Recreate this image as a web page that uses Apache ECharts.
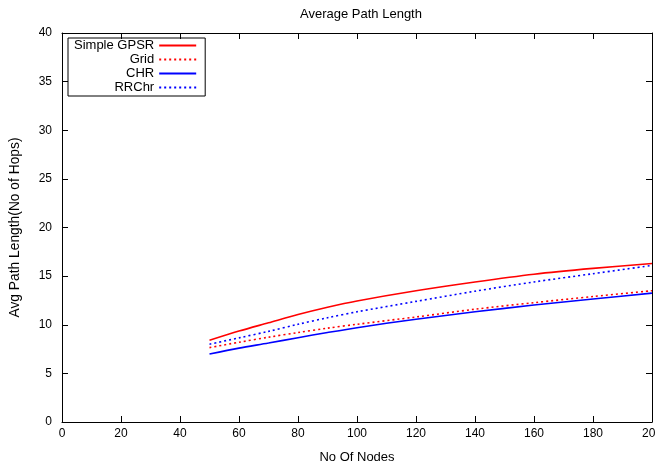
<!DOCTYPE html>
<html>
<head>
<meta charset="utf-8">
<script src="https://cdn.jsdelivr.net/npm/echarts@6/dist/echarts.min.js"></script>
<style>html,body{margin:0;padding:0;background:#fff}#c{width:655px;height:466px}</style>
</head>
<body>
<div id="c"></div>
<script>
const xNodes = [50, 60, 70, 80, 90, 100, 120, 140, 160, 180, 200];
const simpleGPSR = [8.4, 9.35, 10.2, 11.05, 11.8, 12.45, 13.5, 14.4, 15.2, 15.8, 16.3];
const grid = [7.65, 8.2, 8.72, 9.2, 9.65, 10.05, 10.8, 11.6, 12.27, 12.9, 13.5];
const chr = [7.0, 7.6, 8.12, 8.67, 9.2, 9.7, 10.57, 11.33, 12.03, 12.65, 13.25];
const rrchr = [8.0, 8.65, 9.32, 10.05, 10.72, 11.33, 12.4, 13.45, 14.4, 15.25, 16.1];
const seriesNames = ['Simple GPSR', 'Grid', 'CHR', 'RRChr'];
const xTicks = [0, 200, 20];
const yTicks = [0, 40, 5];

const FONT = 'Liberation Sans, Arial, sans-serif';
const pair = (ys) => xNodes.map((x, i) => [x, ys[i]]);
const mk = (name, ys, color, type) => ({
  name, type: 'line', data: pair(ys), smooth: 0.3, symbol: 'none', showSymbol: false,
  lineStyle: { color, width: 1.6, type }, itemStyle: { color }
});

const chart = echarts.init(document.getElementById('c'), null, { renderer: 'canvas' });
const axisLine = { show: true, onZero: false, lineStyle: { color: '#000', width: 1 } };
const tick = { show: true, inside: true, length: 6, lineStyle: { color: '#000' } };
chart.setOption({
  animation: false,
  backgroundColor: '#fff',
  textStyle: { fontFamily: FONT },
  title: {
    text: 'Average Path Length', left: 356, top: 3, textAlign: 'center',
    textStyle: { fontSize: 13, fontWeight: 'normal', color: '#000', fontFamily: FONT }
  },
  grid: { left: 62, right: 3, top: 33, bottom: 44, outerBoundsMode: 'none', containLabel: false },
  legend: {
    orient: 'vertical', left: 68, top: 38, align: 'right',
    padding: [1, 8, 2, 6], itemGap: 1, itemWidth: 37, itemHeight: 12,
    borderColor: '#000', borderWidth: 1,
    itemStyle: { opacity: 0, borderWidth: 0 },
    textStyle: { fontSize: 13, color: '#000', fontFamily: FONT, width: 82, align: 'right', overflow: 'none' },
    data: seriesNames
  },
  xAxis: [{
    type: 'value', min: xTicks[0], max: xTicks[1], interval: xTicks[2],
    name: 'No Of Nodes', nameLocation: 'middle', nameGap: 29,
    nameTextStyle: { fontSize: 13, color: '#000', fontFamily: FONT },
    axisLine, axisTick: tick,
    axisLabel: { fontSize: 12, color: '#000', margin: 6, fontFamily: FONT },
    splitLine: { show: false }
  }, {
    type: 'value', position: 'top', min: xTicks[0], max: xTicks[1], interval: xTicks[2],
    axisLine, axisTick: tick,
    axisLabel: { show: false }, splitLine: { show: false }
  }],
  yAxis: [{
    type: 'value', min: yTicks[0], max: yTicks[1], interval: yTicks[2],
    name: 'Avg Path Length(No of Hops)', nameLocation: 'middle', nameGap: 40,
    nameTextStyle: { fontSize: 13.8, color: '#000', fontFamily: FONT },
    axisLine, axisTick: tick,
    axisLabel: { fontSize: 12, color: '#000', margin: 10, fontFamily: FONT },
    splitLine: { show: false }
  }, {
    type: 'value', position: 'right', min: yTicks[0], max: yTicks[1], interval: yTicks[2],
    axisLine, axisTick: tick,
    axisLabel: { show: false }, splitLine: { show: false }
  }],
  series: [
    mk(seriesNames[0], simpleGPSR, '#ff0000', 'solid'),
    mk(seriesNames[1], grid, '#ff0000', [2, 3]),
    mk(seriesNames[2], chr, '#0000ff', 'solid'),
    mk(seriesNames[3], rrchr, '#0000ff', [2, 3])
  ]
});
</script>
</body>
</html>
